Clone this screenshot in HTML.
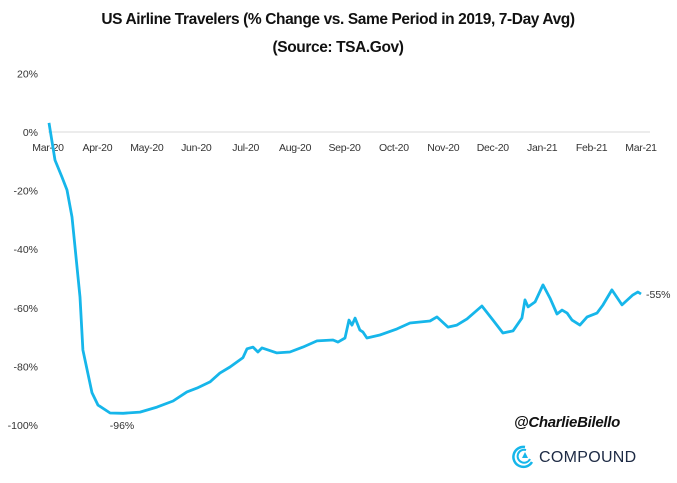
<!DOCTYPE html>
<html><head><meta charset="utf-8"><style>
body{margin:0;background:#fff;width:677px;height:478px;overflow:hidden;font-family:"Liberation Sans",sans-serif}
</style></head><body>
<svg id="chart" width="677" height="478" xmlns="http://www.w3.org/2000/svg">
<text x="338" y="24" text-anchor="middle" font-size="15.5" font-weight="bold" fill="#111" letter-spacing="-0.4">US Airline Travelers (% Change vs. Same Period in 2019, 7-Day Avg)</text>
<text x="338" y="52" text-anchor="middle" font-size="15.5" font-weight="bold" fill="#111" letter-spacing="-0.4">(Source: TSA.Gov)</text>
<g id="axes"></g>
<path id="line" fill="none" stroke="#16b6ea" stroke-width="2.8" stroke-linejoin="round"/>
<text x="122" y="429" text-anchor="middle" font-size="10.5" fill="#333">-96%</text>
<text x="646" y="298" font-size="10.5" fill="#333">-55%</text>
<text x="514" y="427" font-size="15" font-weight="bold" font-style="italic" fill="#111" letter-spacing="-0.3">@CharlieBilello</text>
<g>
<path d="M525 447 A10 10 0 1 0 532 462" fill="none" stroke="#16b6ea" stroke-width="2.5"/>
<path d="M526 450 A6.5 6.5 0 1 0 530 459" fill="none" stroke="#16b6ea" stroke-width="2"/>
<polygon points="522,458 525,452 528,458" fill="#16b6ea"/>
<text x="539" y="462" font-size="16" fill="#1d2a44" letter-spacing="0.3">COMPOUND</text>
</g>
</svg>
<script>
const yTicks=[20,0,-20,-40,-60,-80,-100];
const months=["Mar-20","Apr-20","May-20","Jun-20","Jul-20","Aug-20","Sep-20","Oct-20","Nov-20","Dec-20","Jan-21","Feb-21","Mar-21"];
const days=[1.6,5.3,9.6,12.7,15.8,17.6,20.7,22.5,28.1,31.8,39.2,47.2,57.6,68.1,78,86.5,92.7,100.7,106.8,113,121,123.5,127.2,130.2,132.7,141.9,149.9,157.9,166.6,176.4,179.5,183.8,186.3,188.1,190,193,194.9,197.3,205.3,215.8,223.8,236.1,240.4,247.2,252.7,258.9,268.1,274.9,281,287.2,292.7,294.6,296.5,300.8,305.7,310,314.3,317.4,320.5,323.5,328.4,332.8,338.9,342.6,348.1,354.3,361,364.1,366];
const vals=[3.1,-9.6,-15.4,-19.8,-29,-39.2,-56.3,-74.4,-89,-93.2,-95.9,-96,-95.6,-93.9,-91.8,-88.7,-87.4,-85.3,-82.3,-80.2,-77,-74,-73.4,-75.1,-73.7,-75.4,-75.1,-73.4,-71.3,-71,-71.7,-70.3,-64.2,-65.9,-63.5,-67.6,-68.3,-70.3,-69.3,-67.2,-65.2,-64.5,-63.1,-66.6,-65.9,-63.8,-59.4,-64.2,-68.6,-67.9,-63.5,-57.3,-59.7,-58,-52.2,-56.7,-62.1,-60.8,-61.8,-64.2,-65.9,-63.1,-61.8,-59,-53.9,-59,-55.6,-54.6,-55.3];
const NS="http://www.w3.org/2000/svg";
const x0=48,x1=641,yZero=132,pxPer=2.93;
const xs=d=>x0+(d-1)/365*(x1-x0);
const ys=v=>yZero-v*pxPer;
const ax=document.getElementById('axes');
function mk(tag,attrs,txt){const e=document.createElementNS(NS,tag);for(const k in attrs)e.setAttribute(k,attrs[k]);if(txt!=null)e.textContent=txt;ax.appendChild(e);return e;}
const g=mk('line',{x1:x0,x2:650,y1:ys(0),y2:ys(0),stroke:'#d9d9d9','stroke-width':1});


yTicks.forEach(t=>{const e=mk('text',{x:38,y:ys(t)+4,'text-anchor':'end','font-size':10.5,fill:'#333'},t+'%');

});
months.forEach((m,i)=>{const e=mk('text',{x:x0+i*(x1-x0)/12,y:ys(0)+19,'text-anchor':'middle','font-size':10.5,fill:'#333','letter-spacing':'-0.3'},m);

});
document.getElementById('line').setAttribute('d',days.map((d,i)=>(i?'L':'M')+xs(d).toFixed(1)+' '+ys(vals[i]).toFixed(1)).join(' '));
</script>
</body></html>
